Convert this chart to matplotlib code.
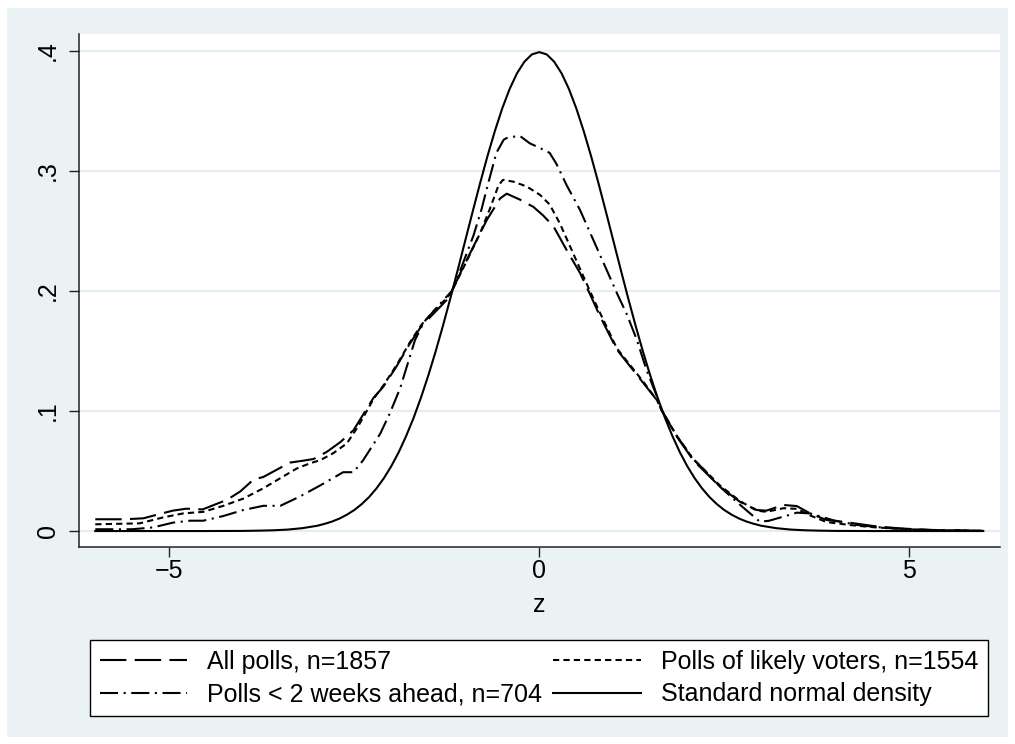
#libraries
import matplotlib
matplotlib.use('Agg')
import matplotlib.pyplot as plt
from matplotlib.patches import Rectangle

plt.rcParams['font.family'] = ['Liberation Sans', 'DejaVu Sans']
plt.rcParams['lines.scale_dashes'] = False

#kernel density of all polls
z_all = [-6.0, -5.6, -5.35, -5.13, -4.95, -4.77, -4.55, -4.22, -4.04, -3.86, -3.73, -3.55, -3.37,
         -3.19, -3.05, -2.87, -2.69, -2.51, -2.40, -2.24, -2.11, -1.93, -1.75, -1.59, -1.43, -1.25,
         -1.18, -1.05, -0.89, -0.71, -0.53, -0.44, -0.26, -0.08, 0.05, 0.19, 0.37, 0.55, 0.68, 0.82,
         1.05, 1.23, 1.41, 1.59, 1.65, 1.86, 2.08, 2.26, 2.44, 2.71, 2.94, 3.07, 3.30, 3.48, 3.66,
         3.88, 4.20, 4.51, 4.87, 5.32, 6.0]
d_all = [0.0098, 0.0098, 0.0106, 0.0142, 0.0170, 0.0186, 0.0180, 0.0260, 0.0330, 0.0430, 0.0450,
         0.0510, 0.0570, 0.0586, 0.0600, 0.0660, 0.0740, 0.0840, 0.0950, 0.1110, 0.1200, 0.1370,
         0.1560, 0.1710, 0.1810, 0.1925, 0.2000, 0.2170, 0.2370, 0.2590, 0.2770, 0.2810, 0.2760,
         0.2700, 0.2630, 0.2540, 0.2340, 0.2150, 0.1980, 0.1790, 0.1510, 0.1370, 0.1230, 0.1090,
         0.1010, 0.0786, 0.0590, 0.0480, 0.0370, 0.0244, 0.0175, 0.0170, 0.0217, 0.0208, 0.0147,
         0.0092, 0.0069, 0.0042, 0.0022, 0.0008, 0.0002]

#polls of likely voters
z_likely = [-6.0, -5.40, -5.08, -4.81, -4.54, -4.27, -4.00, -3.73, -3.50, -3.28, -3.10, -2.96, -2.78,
            -2.60, -2.45, -2.24, -2.11, -1.93, -1.75, -1.59, -1.43, -1.25, -1.18, -0.98, -0.80, -0.67,
            -0.55, -0.49, -0.35, -0.17, 0.01, 0.14, 0.28, 0.46, 0.64, 0.78, 1.05, 1.23, 1.41, 1.59,
            1.65, 1.86, 2.08, 2.26, 2.44, 2.71, 2.94, 3.07, 3.30, 3.48, 3.66, 3.88, 4.20, 4.51, 4.87,
            5.32, 6.0]
d_likely = [0.0056, 0.0064, 0.0114, 0.0147, 0.0160, 0.0210, 0.0270, 0.0356, 0.0440, 0.0520, 0.0564,
            0.0590, 0.0650, 0.0730, 0.0870, 0.1100, 0.1210, 0.1380, 0.1570, 0.1720, 0.1830, 0.1940,
            0.2000, 0.2250, 0.2480, 0.2680, 0.2880, 0.2925, 0.2910, 0.2870, 0.2800, 0.2720, 0.2560,
            0.2310, 0.2060, 0.1870, 0.1520, 0.1380, 0.1240, 0.1090, 0.1010, 0.0790, 0.0600, 0.0490,
            0.0380, 0.0250, 0.0170, 0.0160, 0.0190, 0.0185, 0.0130, 0.0075, 0.0050, 0.0032, 0.0018,
            0.0007, 0.0002]

#polls less than 2 weeks ahead
z_close = [-6.0, -5.50, -5.22, -4.95, -4.72, -4.54, -4.27, -4.00, -3.73, -3.50, -3.24, -2.96, -2.65,
           -2.51, -2.38, -2.15, -2.02, -1.88, -1.79, -1.68, -1.56, -1.43, -1.30, -1.18, -1.05, -0.89,
           -0.78, -0.71, -0.58, -0.48, -0.42, -0.26, -0.13, 0.01, 0.14, 0.23, 0.37, 0.55, 0.73, 0.91,
           1.05, 1.18, 1.32, 1.45, 1.59, 1.65, 1.86, 2.08, 2.26, 2.44, 2.71, 2.98, 3.10, 3.30, 3.48,
           3.66, 3.97, 4.30, 4.70, 5.20, 6.0]
d_close = [0.0015, 0.0015, 0.0030, 0.0070, 0.0086, 0.0086, 0.0125, 0.0175, 0.0210, 0.0210, 0.0286,
           0.0380, 0.0490, 0.0490, 0.0590, 0.0810, 0.0980, 0.1190, 0.1370, 0.1590, 0.1740, 0.1830,
           0.1920, 0.2000, 0.2200, 0.2460, 0.2680, 0.2850, 0.3150, 0.3260, 0.3280, 0.3290, 0.3230,
           0.3190, 0.3150, 0.3060, 0.2880, 0.2675, 0.2425, 0.2175, 0.1980, 0.1810, 0.1590, 0.1340,
           0.1120, 0.1010, 0.0790, 0.0600, 0.0490, 0.0370, 0.0220, 0.0078, 0.0085, 0.0120, 0.0153,
           0.0147, 0.0090, 0.0050, 0.0025, 0.0010, 0.0002]

#standard normal density, right half (curve is symmetric)
z_half = [0.0, 0.1, 0.2, 0.3, 0.4, 0.5, 0.6, 0.7, 0.8, 0.9, 1.0, 1.1, 1.2, 1.3, 1.4, 1.5, 1.6, 1.7,
          1.8, 1.9, 2.0, 2.1, 2.2, 2.3, 2.4, 2.5, 2.6, 2.7, 2.8, 2.9, 3.0, 3.2, 3.4, 3.6, 3.8, 4.0,
          4.5, 5.0, 6.0]
d_half = [0.3989, 0.3970, 0.3910, 0.3814, 0.3683, 0.3521, 0.3332, 0.3123, 0.2897, 0.2661, 0.2420,
          0.2179, 0.1942, 0.1714, 0.1497, 0.1295, 0.1109, 0.0940, 0.0790, 0.0656, 0.0540, 0.0440,
          0.0355, 0.0283, 0.0224, 0.0175, 0.0136, 0.0104, 0.0079, 0.0060, 0.0044, 0.0024, 0.0012,
          0.0006, 0.0003, 0.0001, 0.0000, 0.0000, 0.0000]
z_norm = [-z for z in z_half[::-1]] + z_half[1:]
d_norm = d_half[::-1] + d_half[1:]

xticks = [-5, 0, 5]
yticks = [0, 0.1, 0.2, 0.3, 0.4]
ylabels = ['0', '.1', '.2', '.3', '.4']

bg = '#EAF2F3'
fs = 18

fig = plt.figure(figsize=(10.15, 7.44), dpi=100)
fig.patches.append(Rectangle((7/1015, 1-737/744), 1001/1015, 729/744, transform=fig.transFigure,
                             facecolor=bg, edgecolor='none', zorder=-10))
ax = fig.add_axes([79/1015, 1-547/744, 921/1015, 513/744])
ax.set_facecolor('white')

lw = 1.5
l1, = ax.plot(z_all, d_all, color='black', lw=lw, linestyle=(0, (19, 6)))
l2, = ax.plot(z_close, d_close, color='black', lw=lw, linestyle=(0, (13, 4, 1.5, 4)))
l3, = ax.plot(z_likely, d_likely, color='black', lw=lw, linestyle=(0, (4.5, 3)))
l4, = ax.plot(z_norm, d_norm, color='black', lw=lw)

ax.set_xlim(-6.22, 6.226)
ax.set_ylim(-0.0133, 0.414)
ax.set_xticks(xticks)
ax.set_xticklabels(['\u22125', '0', '5'])
ax.set_yticks(yticks)
ax.set_yticklabels(ylabels, rotation=90, va='center')
ax.tick_params(labelsize=fs, length=7, width=1, color='#222222')
ax.tick_params(axis='x', pad=2)
ax.tick_params(axis='y', pad=7)
ax.grid(axis='y', color='#E4EDF0', lw=1.6)
ax.set_axisbelow(True)
for s in ['top', 'right']:
    ax.spines[s].set_visible(False)
for s in ['left', 'bottom']:
    ax.spines[s].set_color('#222222')
    ax.spines[s].set_linewidth(1.1)
ax.set_xlabel('z', fontsize=fs, labelpad=7)

#legend below the plot, two columns
leg = fig.legend([l1, l2, l3, l4],
                 ['All polls, n=1857', 'Polls < 2 weeks ahead, n=704',
                  'Polls of likely voters, n=1554', 'Standard normal density'],
                 ncol=2, loc='center', bbox_to_anchor=(539/1015, 1-678/744), fontsize=fs,
                 frameon=True, fancybox=False, edgecolor='black', framealpha=1,
                 handlelength=3.5, handletextpad=0.8, columnspacing=0.45, labelspacing=0.35,
                 borderpad=0.4, borderaxespad=0)
leg.get_frame().set_linewidth(1.0)

plt.savefig('out.png', dpi=100)
